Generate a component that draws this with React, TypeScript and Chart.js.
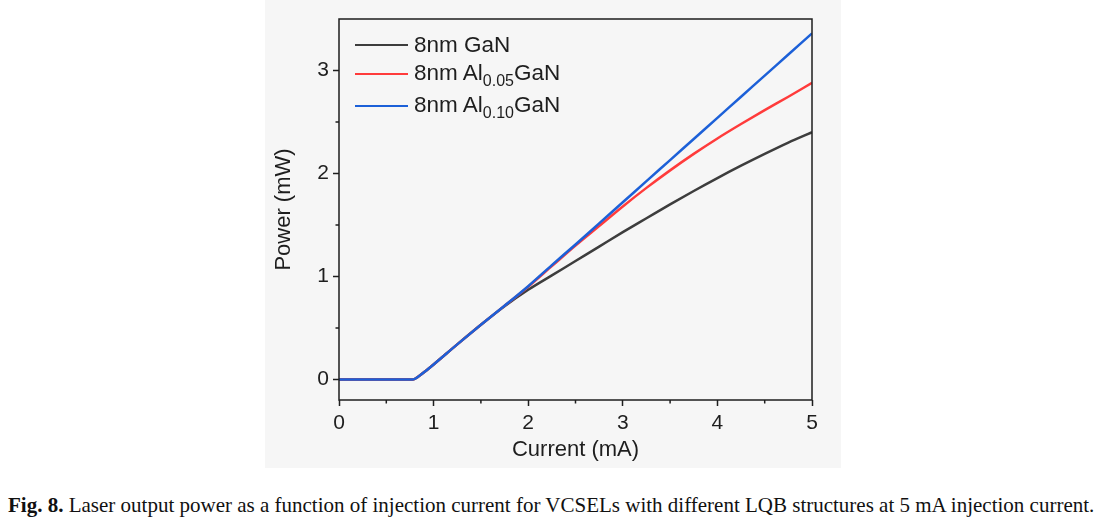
import React, { useEffect, useRef } from "react";
import { Chart, registerables } from "chart.js";

Chart.register(...registerables);

// ---- data ----
const currents = [0, 0.5, 0.78, 0.85, 0.92, 1.0, 1.25, 1.5, 1.75, 2.0, 2.25, 2.5, 2.75, 3.0, 3.25, 3.5, 3.75, 4.0, 4.25, 4.5, 4.75, 5.0];
const powerGaN = [0, 0, 0, 0.035, 0.085, 0.145, 0.34, 0.53, 0.71, 0.87, 1.01, 1.15, 1.29, 1.43, 1.565, 1.7, 1.83, 1.955, 2.075, 2.19, 2.3, 2.4];
const powerAl005 = [0, 0, 0, 0.035, 0.085, 0.145, 0.34, 0.53, 0.715, 0.9, 1.1, 1.3, 1.49, 1.68, 1.86, 2.03, 2.19, 2.34, 2.48, 2.615, 2.745, 2.88];
const powerAl010 = [0, 0, 0, 0.035, 0.085, 0.145, 0.34, 0.53, 0.715, 0.905, 1.11, 1.31, 1.515, 1.72, 1.925, 2.13, 2.335, 2.54, 2.745, 2.95, 3.155, 3.36];

const seriesNames = ["8nm GaN", "8nm Al0.05GaN", "8nm Al0.10GaN"];
const seriesLabelParts = [
  ["8nm GaN", "", ""],
  ["8nm Al", "0.05", "GaN"],
  ["8nm Al", "0.10", "GaN"],
];
const seriesColors = ["#3d3d3d", "#ff3b3b", "#1c60d8"];

const xTicks = [0, 1, 2, 3, 4, 5];
const xMinorTicks = [0.5, 1.5, 2.5, 3.5, 4.5];
const yTicks = [0, 1, 2, 3];
const yMinorTicks = [0.5, 1.5, 2.5];
const xRange = [0, 5];
const yRange = [-0.2, 3.5];

const xTitle = "Current (mA)";
const yTitle = "Power (mW)";
const captionBold = "Fig. 8.";
const captionText =
  "Laser output power as a function of injection current for VCSELs with different LQB structures at 5 mA injection current.";

const AXIS_COLOR = "#1e1e1e";
const FONT = "'Liberation Sans', Arial, sans-serif";

const framePlugin = {
  id: "frameAndMinor",
  afterDraw(chart: any) {
    const { ctx, chartArea: a, scales } = chart;
    ctx.save();
    ctx.strokeStyle = AXIS_COLOR;
    ctx.lineWidth = 1.5;
    ctx.strokeRect(a.left, a.top, a.right - a.left, a.bottom - a.top);
    ctx.beginPath();
    for (const v of xMinorTicks) {
      const px = scales.x.getPixelForValue(v);
      ctx.moveTo(px, a.bottom);
      ctx.lineTo(px, a.bottom + 3.5);
    }
    for (const v of yMinorTicks) {
      const py = scales.y.getPixelForValue(v);
      ctx.moveTo(a.left, py);
      ctx.lineTo(a.left - 3.5, py);
    }
    ctx.stroke();
    ctx.restore();
  },
};

function ChartCanvas() {
  const ref = useRef<HTMLCanvasElement | null>(null);
  useEffect(() => {
    if (!ref.current) return;
    const seriesValues = [powerGaN, powerAl005, powerAl010];
    const chart = new Chart(ref.current, {
      type: "line",
      data: {
        datasets: seriesValues.map((vals, i) => ({
          label: seriesNames[i],
          data: currents.map((c, j) => ({ x: c, y: vals[j] })),
          borderColor: seriesColors[i],
          backgroundColor: seriesColors[i],
          borderWidth: 2.5,
          pointRadius: 0,
          cubicInterpolationMode: "monotone" as const,
          fill: false,
          order: seriesValues.length - i,
        })),
      },
      options: {
        animation: false,
        responsive: false,
        devicePixelRatio: 1,
        layout: { padding: { left: 271, right: 295, top: 19, bottom: 7 } },
        plugins: { legend: { display: false }, tooltip: { enabled: false } },
        scales: {
          x: {
            type: "linear",
            min: xRange[0],
            max: xRange[1],
            afterBuildTicks: (s: any) => {
              s.ticks = xTicks.map((v) => ({ value: v }));
            },
            afterFit: (s: any) => {
              s.height = 63;
            },
            ticks: {
              color: AXIS_COLOR,
              padding: 5,
              font: { family: FONT, size: 21 },
              maxRotation: 0,
              callback: (v: any) => String(v),
            },
            grid: {
              display: true,
              drawOnChartArea: false,
              drawTicks: true,
              tickLength: 6,
              tickWidth: 1.5,
              tickColor: AXIS_COLOR,
            },
            border: { display: false },
            title: {
              display: true,
              text: xTitle,
              color: AXIS_COLOR,
              font: { family: FONT, size: 22 },
              padding: 0,
            },
          },
          y: {
            type: "linear",
            min: yRange[0],
            max: yRange[1],
            afterBuildTicks: (s: any) => {
              s.ticks = yTicks.map((v) => ({ value: v }));
            },
            afterFit: (s: any) => {
              s.width = 68;
            },
            ticks: {
              color: AXIS_COLOR,
              padding: 4,
              font: { family: FONT, size: 21 },
              callback: (v: any) => String(v),
            },
            grid: {
              display: true,
              drawOnChartArea: false,
              drawTicks: true,
              tickLength: 6,
              tickWidth: 1.5,
              tickColor: AXIS_COLOR,
            },
            border: { display: false },
            title: {
              display: true,
              text: yTitle,
              color: AXIS_COLOR,
              font: { family: FONT, size: 22 },
              padding: 0,
            },
          },
        },
      },
      plugins: [framePlugin],
    });
    return () => chart.destroy();
  }, []);
  return (
    <canvas
      ref={ref}
      width={1107}
      height={470}
      style={{ position: "absolute", left: 0, top: 0, width: 1107, height: 470 }}
    />
  );
}

const legendRowCenters = [45, 74, 106];

export default function App() {
  return (
    <div
      style={{
        position: "absolute",
        left: 0,
        top: 0,
        width: 1107,
        height: 526,
        background: "#ffffff",
        overflow: "hidden",
      }}
    >
      <div
        style={{
          position: "absolute",
          left: 265,
          top: 0,
          width: 576,
          height: 468,
          background: "#f6f6f6",
        }}
      />
      <ChartCanvas />
      {seriesLabelParts.map((parts, i) => (
        <div
          key={i}
          style={{
            position: "absolute",
            left: 355,
            top: legendRowCenters[i] - 14,
            height: 28,
            display: "flex",
            alignItems: "center",
            fontFamily: FONT,
            fontSize: 22.5,
            lineHeight: "28px",
            color: AXIS_COLOR,
            whiteSpace: "nowrap",
          }}
        >
          <span
            style={{
              display: "inline-block",
              width: 53,
              height: 2.5,
              background: seriesColors[i],
              marginRight: 6,
            }}
          />
          <span>
            {parts[0]}
            {parts[1] ? (
              <span style={{ fontSize: 16, position: "relative", top: 6 }}>{parts[1]}</span>
            ) : null}
            {parts[2]}
          </span>
        </div>
      ))}
      <div
        style={{
          position: "absolute",
          left: 8,
          top: 493,
          fontFamily: "'Liberation Serif', 'Times New Roman', serif",
          fontSize: 21,
          lineHeight: "24px",
          color: "#111",
          whiteSpace: "nowrap",
        }}
      >
        <b>{captionBold}</b> {captionText}
      </div>
    </div>
  );
}
